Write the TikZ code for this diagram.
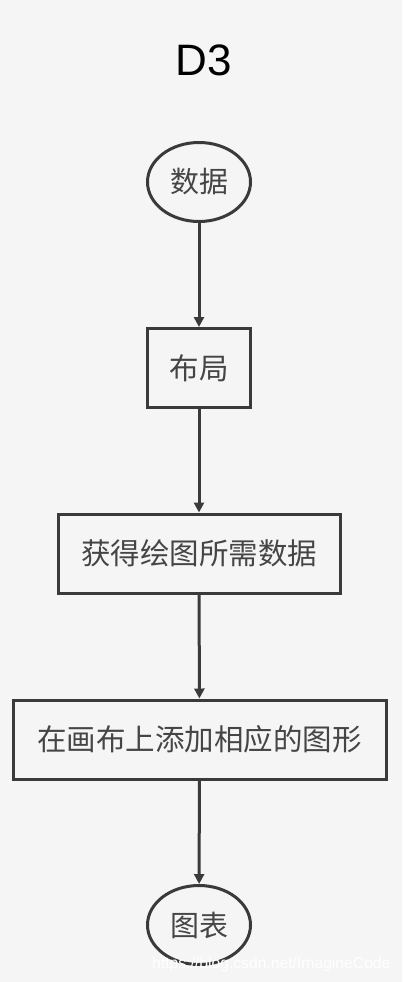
\documentclass[tikz,border=0pt]{standalone}
\usepackage{fontspec}
\setmainfont{Liberation Sans}
\newfontfamily\cjk{Noto Sans CJK SC}
\usetikzlibrary{arrows.meta,shapes.geometric}
\definecolor{bg}{HTML}{F5F5F5}
\definecolor{edge}{HTML}{3A3A3A}
\definecolor{txt}{HTML}{454545}
\tikzset{
  flowbox/.style={draw=edge, line width=3pt, fill=bg, rectangle, minimum height=79pt, inner sep=0pt, text=txt, font=\cjk\fontsize{29.5}{32}\selectfont},
  term/.style={draw=edge, line width=3pt, fill=bg, ellipse, minimum width=103pt, minimum height=79pt, inner sep=0pt, text=txt, font=\cjk\fontsize{29}{32}\selectfont},
  conn/.style={draw=edge, line width=3pt, -{Triangle[length=10pt,width=10pt]}}
}
\begin{document}
\begin{tikzpicture}[x=1pt,y=-1pt]
\fill[bg] (0,0) rectangle (402,982);
\useasboundingbox (0,0) rectangle (402,982);
\node[font=\fontsize{44}{48}\selectfont, text=black] (title) at (204,60) {D3};
\node[term] (data) at (199,182) {数据};
\node[flowbox, minimum width=103pt] (layout) at (199,368) {布局};
\node[flowbox, minimum width=282pt] (fetch) at (199,553.5) {获得绘图所需数据};
\node[flowbox, minimum width=373pt] (draw) at (199.5,739.5) {在画布上添加相应的图形};
\node[term] (chart) at (199,925) {图表};
\draw[conn] (data) -- (layout);
\draw[conn] (layout) -- (fetch);
\draw[conn] (fetch) -- (draw);
\draw[conn] (draw) -- (chart);
\node[anchor=base west, text=white, font=\fontsize{15.7}{18}\selectfont, inner sep=0pt] (wm) at (152,968) {https://blog.csdn.net/ImagineCode};
\end{tikzpicture}
\end{document}
